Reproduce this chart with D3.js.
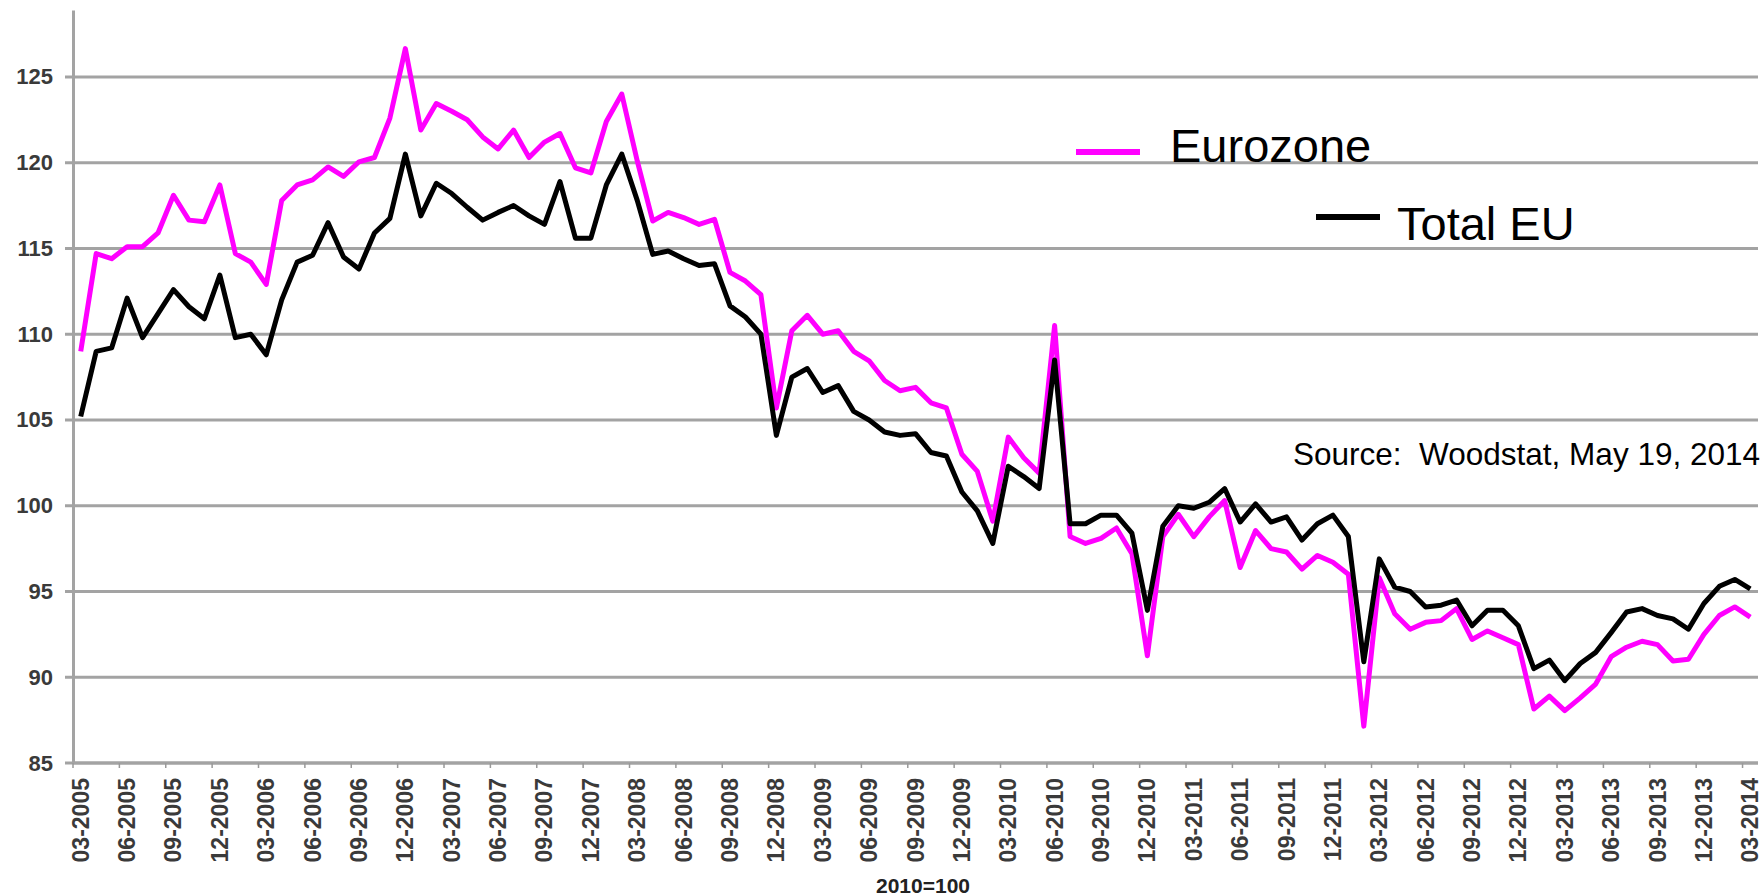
<!DOCTYPE html>
<html>
<head>
<meta charset="utf-8">
<script src="https://cdn.jsdelivr.net/npm/d3@7"></script>
<style>
  html, body { margin: 0; padding: 0; background: #fff; }
  #chart { width: 1764px; height: 896px; }
  text { font-family: "Liberation Sans", Arial, sans-serif; }
</style>
</head>
<body>
<div id="chart"></div>
<script>
// Tick labels on the category axis (one every quarter)
const tickLabels = [
    '03-2005', '06-2005', '09-2005', '12-2005', '03-2006', '06-2006', '09-2006', '12-2006',
    '03-2007', '06-2007', '09-2007', '12-2007', '03-2008', '06-2008', '09-2008', '12-2008',
    '03-2009', '06-2009', '09-2009', '12-2009', '03-2010', '06-2010', '09-2010', '12-2010',
    '03-2011', '06-2011', '09-2011', '12-2011', '03-2012', '06-2012', '09-2012', '12-2012',
    '03-2013', '06-2013', '09-2013', '12-2013', '03-2014'
];

const yTicks = [85, 90, 95, 100, 105, 110, 115, 120, 125];

// Monthly index values, 03-2005 .. 03-2014 (2010=100)
const eurozone = [
    109.0, 114.7, 114.4, 115.1, 115.1, 115.9, 118.1, 116.65, 116.55, 118.7,
    114.7, 114.2, 112.9, 117.8, 118.7, 119.0, 119.75, 119.2, 120.05, 120.3,
    122.6, 126.65, 121.9, 123.45, 123.0, 122.5, 121.5, 120.8, 121.9, 120.3,
    121.2, 121.7, 119.7, 119.4, 122.4, 124.0, 120.1, 116.6, 117.1, 116.8,
    116.4, 116.7, 113.6, 113.1, 112.3, 105.7, 110.2, 111.1, 110.0, 110.2,
    109.0, 108.45, 107.3, 106.7, 106.9, 106.0, 105.7, 103.0, 102.0, 99.1,
    104.0, 102.8, 101.9, 110.5, 98.2, 97.8, 98.1, 98.7, 97.2, 91.25,
    98.2, 99.5, 98.2, 99.35, 100.3, 96.4, 98.55, 97.5, 97.3, 96.3,
    97.1, 96.7, 96.0, 87.15, 95.8, 93.7, 92.8, 93.2, 93.3, 94.0,
    92.2, 92.7, 92.3, 91.9, 88.15, 88.9, 88.05, 88.8, 89.6, 91.2,
    91.75, 92.1, 91.9, 90.95, 91.05, 92.5, 93.6, 94.1, 93.5
];

const totalEU = [
    105.2, 109.0, 109.2, 112.1, 109.8, 111.2, 112.6, 111.6, 110.9, 113.45,
    109.8, 110.0, 108.8, 112.0, 114.2, 114.6, 116.5, 114.5, 113.8, 115.9,
    116.75, 120.5, 116.9, 118.8, 118.2, 117.4, 116.65, 117.1, 117.5, 116.9,
    116.4, 118.9, 115.6, 115.6, 118.7, 120.5, 117.8, 114.65, 114.85, 114.4,
    114.0, 114.1, 111.65, 111.0, 110.0, 104.1, 107.5, 108.0, 106.6, 107.0,
    105.5, 105.0, 104.3, 104.1, 104.2, 103.1, 102.9, 100.8, 99.7, 97.8,
    102.3, 101.7, 101.0, 108.5, 98.95, 98.95, 99.45, 99.45, 98.4, 93.9,
    98.8, 100.0, 99.85, 100.2, 101.0, 99.05, 100.1, 99.05, 99.35, 98.0,
    98.95, 99.45, 98.2, 90.9, 96.9, 95.25, 95.0, 94.1, 94.2, 94.5,
    93.0, 93.9, 93.9, 93.0, 90.5, 91.0, 89.8, 90.8, 91.45, 92.6,
    93.8, 94.0, 93.6, 93.4, 92.8, 94.3, 95.3, 95.7, 95.15
];

const seriesNames = ['Eurozone', 'Total EU'];
const seriesColors = ['#ff00ff', '#000000'];

function renderChart() {
    const width = 1764;
    const height = 896;
    const margin = { top: 10, right: 6, bottom: 133, left: 73 };

    const fmt = d3.utcFormat('%m-%Y');
    const months = d3.utcMonth.range(new Date(Date.UTC(2005, 2, 1)), new Date(Date.UTC(2014, 3, 1))).map(fmt);

    const svg = d3.select('#chart').append('svg')
        .attr('width', width)
        .attr('height', height);

    const x = d3.scalePoint()
        .domain(months)
        .range([margin.left, width - margin.right])
        .padding(0.5);
    const step = x.step();

    const y = d3.scaleLinear()
        .domain([85, 128.9])
        .range([height - margin.bottom, margin.top]);

    // Gridlines
    svg.append('g')
        .selectAll('line')
        .data(yTicks)
        .enter()
        .append('line')
        .attr('x1', margin.left - 8)
        .attr('x2', width - margin.right)
        .attr('y1', d => y(d))
        .attr('y2', d => y(d))
        .attr('stroke', '#a3a3a3')
        .attr('stroke-width', 3);

    // Y axis
    const yAxis = svg.append('g')
        .attr('transform', `translate(${margin.left},0)`)
        .call(d3.axisLeft(y).tickValues(yTicks).tickSize(0).tickPadding(20));
    yAxis.select('.domain')
        .attr('stroke', '#a3a3a3')
        .attr('stroke-width', 3);
    yAxis.selectAll('text')
        .attr('font-size', 22)
        .attr('font-weight', 'bold')
        .attr('fill', '#3a3a3a');

    // X axis: ticks at category boundaries, labels on the categories
    const xg = svg.append('g');
    xg.append('line')
        .attr('x1', margin.left)
        .attr('x2', width - margin.right)
        .attr('y1', y(85))
        .attr('y2', y(85))
        .attr('stroke', '#a3a3a3')
        .attr('stroke-width', 3);

    xg.selectAll('.xtick')
        .data(tickLabels)
        .enter()
        .append('line')
        .attr('class', 'xtick')
        .attr('x1', d => x(d) - step / 2)
        .attr('x2', d => x(d) - step / 2)
        .attr('y1', y(85))
        .attr('y2', y(85) + 5)
        .attr('stroke', '#999')
        .attr('stroke-width', 1.5);

    xg.selectAll('.xlabel')
        .data(tickLabels)
        .enter()
        .append('text')
        .attr('class', 'xlabel')
        .attr('transform', d => `translate(${x(d) + 8},${y(85) + 15}) rotate(-90)`)
        .attr('text-anchor', 'end')
        .attr('font-size', 23)
        .attr('font-weight', 'bold')
        .attr('fill', '#3a3a3a')
        .text(d => d);

    svg.append('text')
        .attr('x', 923)
        .attr('y', 893)
        .attr('text-anchor', 'middle')
        .attr('font-size', 21)
        .attr('font-weight', 'bold')
        .attr('fill', '#222')
        .text('2010=100');

    // Lines
    const line = d3.line()
        .x((d, i) => x(months[i]))
        .y(d => y(d));

    [eurozone, totalEU].forEach((values, k) => {
        svg.append('path')
            .datum(values)
            .attr('fill', 'none')
            .attr('stroke', seriesColors[k])
            .attr('stroke-width', 5)
            .attr('stroke-linejoin', 'round')
            .attr('d', line);
    });

    // Legend
    const legend = [
        { x1: 1076, x2: 1140, y: 152, tx: 1170, ty: 162 },
        { x1: 1316, x2: 1380, y: 217, tx: 1397, ty: 240 }
    ];
    legend.forEach((l, k) => {
        svg.append('line')
            .attr('x1', l.x1).attr('x2', l.x2)
            .attr('y1', l.y).attr('y2', l.y)
            .attr('stroke', seriesColors[k])
            .attr('stroke-width', 6);
        svg.append('text')
            .attr('x', l.tx)
            .attr('y', l.ty)
            .attr('font-size', 47)
            .attr('fill', '#000')
            .text(seriesNames[k]);
    });

    svg.append('text')
        .attr('x', 1760)
        .attr('y', 465)
        .attr('text-anchor', 'end')
        .attr('font-size', 31.5)
        .attr('fill', '#000')
        .text('Source:  Woodstat, May 19, 2014')
        .style('white-space', 'pre');
}

renderChart();
</script>
</body>
</html>
